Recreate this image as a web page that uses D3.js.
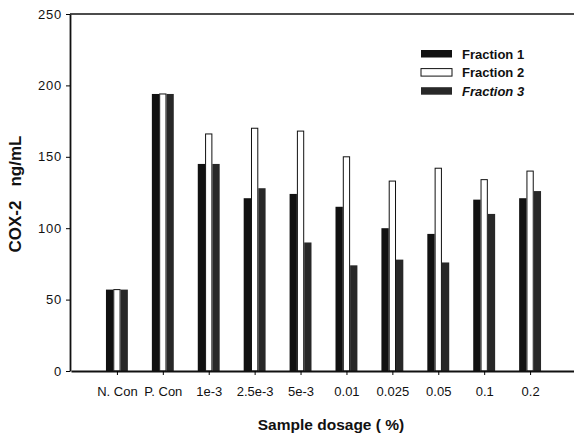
<!DOCTYPE html>
<html>
<head>
<meta charset="utf-8">
<script src="https://cdn.jsdelivr.net/npm/d3@7"></script>
<style>
  body { margin: 0; background: #fff; }
  svg { font-family: "Liberation Sans", Arial, sans-serif; }
</style>
</head>
<body>
<script>
const categories = ['N. Con', 'P. Con', '1e-3', '2.5e-3', '5e-3', '0.01', '0.025', '0.05', '0.1', '0.2'];
const fraction1 = [57, 194, 145, 121, 124, 115, 100, 96, 120, 121];
const fraction2 = [57, 194, 166, 170, 168, 150, 133, 142, 134, 140];
const fraction3 = [57, 194, 145, 128, 90, 74, 78, 76, 110, 126];
const yTicks = [0, 50, 100, 150, 200, 250];
const seriesNames = ['Fraction 1', 'Fraction 2', 'Fraction 3'];

const width = 574;
const height = 434;
const plotLeft = 70, plotRight = 576, plotTop = 14, plotBottom = 371;

const svg = d3.select('body')
              .append('svg')
              .attr('width', width)
              .attr('height', height);

const xScale = d3.scaleLinear()
                 .domain([0, categories.length + 1])
                 .range([plotLeft + 1, plotRight]);

const yScale = d3.scaleLinear()
                 .domain([0, 250])
                 .range([plotBottom, plotTop]);

const barW = 7.3;
const fills = ['#111', '#fff', '#282828'];
const series = [fraction1, fraction2, fraction3];

series.forEach((vals, s) => {
    svg.append('g')
       .selectAll('rect')
       .data(vals)
       .enter()
       .append('rect')
       .attr('x', (d, i) => xScale(i + 1) + (s - 1.5) * barW + (s == 1 ? 0.5 : 0))
       .attr('y', d => yScale(d))
       .attr('width', s == 1 ? barW - 1 : barW)
       .attr('height', d => yScale(0) - yScale(d))
       .attr('fill', fills[s])
       .attr('stroke', s == 1 ? '#111' : 'none')
       .attr('stroke-width', 1);
});

// axes
const yAxis = d3.axisLeft(yScale)
                .tickValues(yTicks)
                .tickSize(4)
                .tickSizeOuter(0)
                .tickPadding(4);
svg.append('g')
   .attr('transform', `translate(${plotLeft}, 0)`)
   .call(yAxis)
   .call(g => g.selectAll('text').style('font-size', '13px').style('letter-spacing', '0.8px').attr('fill', '#111'))
   .call(g => g.select('.domain').attr('stroke', '#111').attr('stroke-width', 1.8));

const xAxis = d3.axisBottom(xScale)
                .tickValues(d3.range(1, categories.length + 1))
                .tickFormat(d => categories[d - 1])
                .tickSize(4)
                .tickSizeOuter(0)
                .tickPadding(12);
svg.append('g')
   .attr('transform', `translate(0, ${plotBottom})`)
   .call(xAxis)
   .call(g => g.selectAll('text').style('font-size', '13px').attr('fill', '#111'))
   .call(g => g.select('.domain').attr('stroke', '#111').attr('stroke-width', 1.8));

// top frame line
svg.append('line')
   .attr('x1', plotLeft).attr('x2', plotRight)
   .attr('y1', plotTop).attr('y2', plotTop)
   .attr('stroke', '#111')
   .attr('stroke-width', 1.5);

// axis titles
const yTitle = svg.append('text')
   .attr('transform', `translate(20.5, 194) rotate(-90)`)
   .attr('text-anchor', 'middle')
   .style('font-size', '17px')
   .style('font-weight', 'bold')
   .attr('fill', '#111');
yTitle.append('tspan').text('COX-2');
yTitle.append('tspan').attr('dx', 14).text('ng/mL');

svg.append('text')
   .attr('x', 331)
   .attr('y', 430)
   .attr('text-anchor', 'middle')
   .style('font-size', '15.5px')
   .style('font-weight', 'bold')
   .attr('fill', '#111')
   .text('Sample dosage ( %)');

// legend
const legend = svg.append('g').attr('transform', 'translate(421, 50)');
seriesNames.forEach((name, i) => {
    legend.append('rect')
          .attr('x', 0)
          .attr('y', i * 18.6)
          .attr('width', 31)
          .attr('height', 7.5)
          .attr('fill', fills[i])
          .attr('stroke', i == 1 ? '#111' : 'none');
    legend.append('text')
          .attr('x', 41)
          .attr('y', i * 18.6 + 8.5)
          .style('font-size', '13px')
          .style('font-weight', 'bold')
          .style('font-style', i == 2 ? 'italic' : 'normal')
          .attr('fill', '#111')
          .text(name);
});
</script>
</body>
</html>
